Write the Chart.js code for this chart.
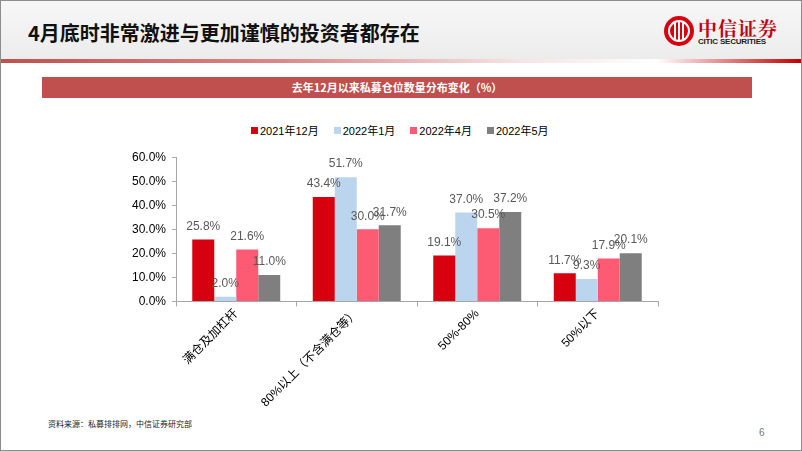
<!DOCTYPE html>
<html>
<head>
<meta charset="utf-8">
<script src="https://cdn.jsdelivr.net/npm/chart.js@4.4.0/dist/chart.umd.min.js"></script>
<style>
  html, body { margin: 0; padding: 0; }
  body { width: 802px; height: 451px; position: relative; overflow: hidden; background: #fff;
         font-family: "Noto Sans CJK SC", "Liberation Sans", sans-serif; }
  #frame { position: absolute; left: 0; top: 0; width: 800px; height: 449px; border: 1px solid #8c8c8c; }
  #head { position: absolute; left: 1px; top: 1px; width: 800px; height: 58px;
          background: linear-gradient(to bottom, #f7f7f7, #ececec); }
  #redline { position: absolute; left: 1px; top: 59px; width: 800px; height: 4px;
             background: linear-gradient(to right, #c0504d 0%, #d88a88 35%, #f6e4e4 65%, #ffffff 82%, #c00000 100%); }
  #title { position: absolute; left: 28px; top: 18px; font-size: 20px; font-weight: bold; color: #111; }
  #logo { position: absolute; left: 664px; top: 16px; width: 30px; height: 30px; border-radius: 50%; background: #d7000f; }
  #logo .ring { position: absolute; left: 4px; top: 4px; width: 18px; height: 18px; border-radius: 50%; border: 2px solid #fff; }
  #logo .bar { position: absolute; top: 6px; width: 2px; height: 18px; background: #fff; }
  #logoText { position: absolute; left: 698px; top: 14px; font-size: 19px; font-weight: bold; color: #c00010;
              font-family: "Noto Serif CJK SC", "Noto Sans CJK SC", serif; letter-spacing: 1px; }
  #logoSub { position: absolute; left: 698px; top: 37px; font-size: 8px; font-weight: bold; color: #222;
             font-family: "Liberation Sans", sans-serif; letter-spacing: -0.2px; }
  #banner { position: absolute; left: 42px; top: 77px; width: 710px; height: 21px; background: #c0504d;
            color: #fff; font-size: 11px; font-weight: bold; text-align: center; line-height: 21px; }
  #legend { position: absolute; left: 251px; top: 122px; display: flex; gap: 15px;
            font-size: 11px; color: #000; font-family: "Liberation Sans", "Noto Sans CJK SC", sans-serif; }
  #legend .item { display: flex; align-items: center; height: 16px; }
  #legend .box { width: 7px; height: 7px; margin-right: 2px; }
  #wrap { position: absolute; left: 100px; top: 144px; width: 590px; height: 266px; }
  #note { position: absolute; left: 48px; top: 418px; font-size: 8px; color: #222; }
  #page { position: absolute; left: 759px; top: 427px; font-size: 10px; color: #777; font-family: "Liberation Sans", sans-serif; }
</style>
</head>
<body>
<div id="frame"></div>
<div id="head"></div>
<div id="redline"></div>
<div id="title">4月底时非常激进与更加谨慎的投资者都存在</div>
<div id="logo"><div class="ring"></div><div class="bar" style="left:10px"></div><div class="bar" style="left:14px"></div><div class="bar" style="left:18px"></div></div>
<div id="logoText">中信证券</div>
<div id="logoSub">CITIC SECURITIES</div>
<div id="banner">去年12月以来私募仓位数量分布变化（%）</div>
<div id="legend"></div>
<div id="wrap"><canvas id="chart"></canvas></div>
<div id="note">资料来源：私募排排网，中信证券研究部</div>
<div id="page">6</div>
<script>
// categories and series (percent)
const categories = ['满仓及加杠杆', '80%以上（不含满仓等）', '50%-80%', '50%以下'];
const seriesNames = ['2021年12月', '2022年1月', '2022年4月', '2022年5月'];
const dec2021 = [25.8, 43.4, 19.1, 11.7];
const jan2022 = [2.0, 51.7, 37.0, 9.3];
const apr2022 = [21.6, 30.0, 30.5, 17.9];
const may2022 = [11.0, 31.7, 37.2, 20.1];
const yTicks = [0, 10, 20, 30, 40, 50, 60];

const colors = ['#d7000f', '#bcd5ee', '#fd5b73', '#7f7f7f'];
const latin = '"Liberation Sans", "Noto Sans CJK SC", sans-serif';
const seriesData = [dec2021, jan2022, apr2022, may2022];

// legend as html, same look as the slide
const legendEl = document.getElementById('legend');
seriesNames.forEach((name, i) => {
    const item = document.createElement('div');
    item.className = 'item';
    item.innerHTML = `<span class="box" style="background:${colors[i]}"></span><span>${name}</span>`;
    legendEl.appendChild(item);
});

// draw value labels above each bar
const barLabels = {
    id: 'barLabels',
    afterDatasetsDraw(chart) {
        const ctx = chart.ctx;
        ctx.save();
        ctx.font = '12px ' + latin;
        ctx.fillStyle = '#595959';
        ctx.textAlign = 'center';
        ctx.textBaseline = 'middle';
        chart.data.datasets.forEach((ds, i) => {
            chart.getDatasetMeta(i).data.forEach((el, j) => {
                ctx.fillText(ds.data[j].toFixed(1) + '%', el.x, el.y - 13);
            });
        });
        ctx.restore();
    }
};

new Chart(document.getElementById('chart'), {
    type: 'bar',
    data: {
        labels: categories,
        datasets: seriesNames.map((name, i) => ({
            label: name,
            data: seriesData[i],
            backgroundColor: colors[i],
            borderWidth: 0
        }))
    },
    options: {
        responsive: true,
        maintainAspectRatio: false,
        animation: false,
        categoryPercentage: 0.73,
        barPercentage: 1.0,
        layout: { padding: { left: 0, right: 32, top: 0, bottom: 0 } },
        plugins: {
            legend: { display: false },
            tooltip: { enabled: false }
        },
        scales: {
            x: {
                grid: { display: true, drawOnChartArea: false, drawTicks: true, tickLength: 5, color: '#a6a6a6', offset: true },
                border: { display: true, color: '#a6a6a6' },
                ticks: { color: '#000', font: { size: 12, family: latin }, maxRotation: 45, minRotation: 45, padding: 0 }
            },
            y: {
                min: 0,
                max: 60,
                afterBuildTicks(axis) { axis.ticks = yTicks.map(v => ({ value: v })); },
                afterFit(axis) { axis.width = 76; },
                grid: { display: true, drawOnChartArea: false, drawTicks: true, tickLength: 4, color: '#a6a6a6' },
                border: { display: true, color: '#a6a6a6' },
                ticks: { color: '#000', font: { size: 12, family: latin }, padding: 6,
                         callback: v => v.toFixed(1) + '%' }
            }
        }
    },
    plugins: [barLabels]
});
</script>
</body>
</html>
